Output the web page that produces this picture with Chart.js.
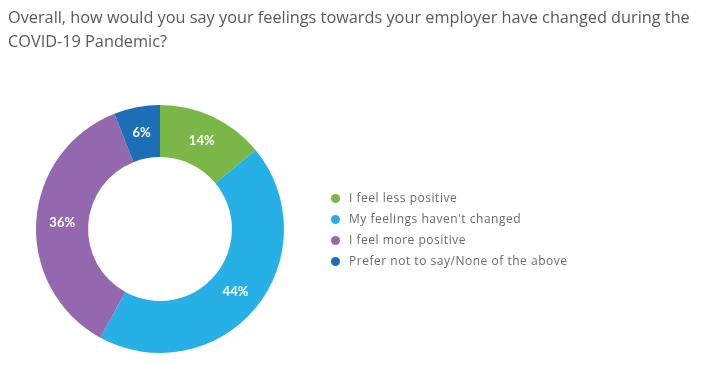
<!DOCTYPE html>
<html>
<head>
<meta charset="utf-8">
<script src="https://cdn.jsdelivr.net/npm/chart.js@4"></script>
<style>
  html, body { margin: 0; padding: 0; background: #fff; }
  #wrap { position: relative; width: 703px; height: 365px; overflow: hidden; }
  #title {
    position: absolute; left: 8px; top: 5px; width: 695px;
    font-family: "Open Sans", sans-serif; font-size: 16.3px; line-height: 24px;
    color: #595959;
  }
  #legend {
    position: absolute; left: 331px; top: 187px; margin: 0; padding: 0; list-style: none;
    font-family: "Open Sans", sans-serif; font-size: 12px; color: #6a6a6a; letter-spacing: 0.52px;
  }
  #legend li { height: 21px; line-height: 21px; white-space: nowrap; }
  #legend span.dot {
    display: inline-block; width: 9px; height: 9px; border-radius: 50%;
    margin-right: 9px; vertical-align: -1px;
  }
  canvas { position: absolute; left: 0; top: 0; }
</style>
</head>
<body>
<div id="wrap">
  <canvas id="donut" width="703" height="365"></canvas>
  <div id="title">Overall, how would you say your feelings towards your employer have changed during the COVID-19 Pandemic?</div>
  <ul id="legend"></ul>
</div>
<script>
const labels = ['I feel less positive', "My feelings haven't changed", 'I feel more positive', 'Prefer not to say/None of the above'];
const shares = [14, 44, 36, 6];
const colors = ['#7ab648', '#27b0e6', '#9368ae', '#1c6fb7'];

// white percentage text in the middle of each slice
const sliceLabels = {
  id: 'sliceLabels',
  afterDatasetsDraw(chart) {
    const c = chart.ctx;
    const meta = chart.getDatasetMeta(0);
    c.save();
    c.fillStyle = '#fff';
    c.font = 'bold 13px Lato, sans-serif';
    c.textAlign = 'center';
    c.textBaseline = 'middle';
    meta.data.forEach((arc, i) => {
      const p = arc.tooltipPosition();
      c.fillText(shares[i] + '%', p.x, p.y);
    });
    c.restore();
  }
};

const chart = new Chart(document.getElementById('donut'), {
  type: 'doughnut',
  data: {
    labels: labels,
    datasets: [{
      data: shares,
      backgroundColor: colors,
      borderWidth: 0
    }]
  },
  options: {
    responsive: false,
    animation: false,
    cutout: '58%',
    layout: { padding: { left: 36, right: 419, top: 105, bottom: 12 } },
    plugins: { legend: { display: false }, tooltip: { enabled: false } }
  },
  plugins: [sliceLabels]
});

const ul = document.getElementById('legend');
labels.forEach((l, i) => {
  const li = document.createElement('li');
  li.innerHTML = '<span class="dot" style="background:' + colors[i] + '"></span>' + l;
  ul.appendChild(li);
});
</script>
</body>
</html>
